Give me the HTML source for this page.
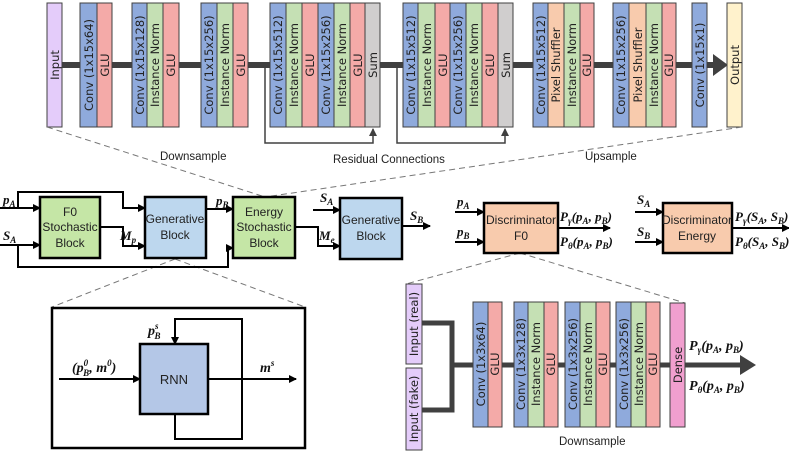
<!DOCTYPE html>
<html><head><meta charset="utf-8"><style>
html,body{margin:0;padding:0;background:#fff;}
svg{display:block;}
.b{stroke:#404040;stroke-width:1;}
.bt{font-family:"DejaVu Sans",sans-serif;font-size:11.5px;fill:#222;text-anchor:middle;dominant-baseline:central;}
.lbl{font-family:"Liberation Sans",sans-serif;font-size:11.5px;fill:#222;}
.blk{font-family:"Liberation Sans",sans-serif;font-size:12px;fill:#222;text-anchor:middle;}
.m{font-family:"Liberation Serif",serif;font-style:italic;font-weight:bold;font-size:13px;fill:#111;}
.s{font-size:9px;}
</style></head><body>
<svg width="789" height="452" viewBox="0 0 789 452" xmlns="http://www.w3.org/2000/svg">
<defs>
<marker id="ah" markerWidth="8" markerHeight="8" refX="7" refY="4" orient="auto" markerUnits="userSpaceOnUse"><path d="M0,0 L8,4 L0,8 z" fill="#000"/></marker>
<marker id="ahg" markerWidth="8" markerHeight="8" refX="7" refY="4" orient="auto" markerUnits="userSpaceOnUse"><path d="M0,0 L8,4 L0,8 z" fill="#404040"/></marker>
</defs>

<line x1="62" y1="65" x2="717" y2="65" stroke="#404040" stroke-width="6"/>
<polygon points="713,54 728,65 713,76" fill="#404040"/>
<polyline points="265,65 265,143 373,143 373,129" fill="none" stroke="#404040" stroke-width="1.5" marker-end="url(#ahg)"/>
<polyline points="397,65 397,143 505,143 505,129" fill="none" stroke="#404040" stroke-width="1.5" marker-end="url(#ahg)"/>

<g class="b">
<rect x="47" y="3" width="15" height="124" fill="#e4ccfa"/>
<rect x="80" y="3" width="17" height="124" fill="#8faadc"/><rect x="97" y="3" width="15" height="124" fill="#f4aaa8"/>
<rect x="132" y="3" width="15" height="124" fill="#8faadc"/><rect x="147" y="3" width="16" height="124" fill="#c5e0b4"/><rect x="163" y="3" width="16" height="124" fill="#f4aaa8"/>
<rect x="201" y="3" width="16" height="124" fill="#8faadc"/><rect x="217" y="3" width="16" height="124" fill="#c5e0b4"/><rect x="233" y="3" width="15" height="124" fill="#f4aaa8"/>
<rect x="270" y="3" width="16" height="124" fill="#8faadc"/><rect x="286" y="3" width="16" height="124" fill="#c5e0b4"/><rect x="302" y="3" width="16" height="124" fill="#f4aaa8"/><rect x="318" y="3" width="16" height="124" fill="#8faadc"/><rect x="334" y="3" width="16" height="124" fill="#c5e0b4"/><rect x="350" y="3" width="15" height="124" fill="#f4aaa8"/><rect x="365" y="3" width="15" height="124" fill="#d0cece"/>
<rect x="403" y="3" width="15" height="124" fill="#8faadc"/><rect x="418" y="3" width="17" height="124" fill="#c5e0b4"/><rect x="435" y="3" width="15" height="124" fill="#f4aaa8"/><rect x="450" y="3" width="16" height="124" fill="#8faadc"/><rect x="466" y="3" width="16" height="124" fill="#c5e0b4"/><rect x="482" y="3" width="16" height="124" fill="#f4aaa8"/><rect x="498" y="3" width="15" height="124" fill="#d0cece"/>
<rect x="533" y="3" width="15" height="124" fill="#8faadc"/><rect x="548" y="3" width="16" height="124" fill="#f8cbad"/><rect x="564" y="3" width="16" height="124" fill="#c5e0b4"/><rect x="580" y="3" width="14" height="124" fill="#f4aaa8"/>
<rect x="613" y="3" width="16" height="124" fill="#8faadc"/><rect x="629" y="3" width="17" height="124" fill="#f8cbad"/><rect x="646" y="3" width="16" height="124" fill="#c5e0b4"/><rect x="662" y="3" width="14" height="124" fill="#f4aaa8"/>
<rect x="692" y="3" width="15" height="124" fill="#8faadc"/>
<rect x="727" y="3" width="15" height="124" fill="#fff2cc"/>
</g>
<g class="bt">
<text transform="translate(55,65) rotate(-90)">Input</text>
<text transform="translate(89,65) rotate(-90)">Conv (1x15x64)</text>
<text transform="translate(105,65) rotate(-90)">GLU</text>
<text transform="translate(140,65) rotate(-90)">Conv (1x15x128)</text>
<text transform="translate(155,65) rotate(-90)">Instance Norm</text>
<text transform="translate(171,65) rotate(-90)">GLU</text>
<text transform="translate(209,65) rotate(-90)">Conv (1x15x256)</text>
<text transform="translate(225,65) rotate(-90)">Instance Norm</text>
<text transform="translate(241,65) rotate(-90)">GLU</text>
<text transform="translate(278,65) rotate(-90)">Conv (1x15x512)</text>
<text transform="translate(294,65) rotate(-90)">Instance Norm</text>
<text transform="translate(310,65) rotate(-90)">GLU</text>
<text transform="translate(326,65) rotate(-90)">Conv (1x15x256)</text>
<text transform="translate(342,65) rotate(-90)">Instance Norm</text>
<text transform="translate(358,65) rotate(-90)">GLU</text>
<text transform="translate(373,65) rotate(-90)">Sum</text>
<text transform="translate(411,65) rotate(-90)">Conv (1x15x512)</text>
<text transform="translate(427,65) rotate(-90)">Instance Norm</text>
<text transform="translate(443,65) rotate(-90)">GLU</text>
<text transform="translate(458,65) rotate(-90)">Conv (1x15x256)</text>
<text transform="translate(474,65) rotate(-90)">Instance Norm</text>
<text transform="translate(490,65) rotate(-90)">GLU</text>
<text transform="translate(506,65) rotate(-90)">Sum</text>
<text transform="translate(541,65) rotate(-90)">Conv (1x15x512)</text>
<text transform="translate(556,65) rotate(-90)">Pixel Shuffler</text>
<text transform="translate(572,65) rotate(-90)">Instance Norm</text>
<text transform="translate(587,65) rotate(-90)">GLU</text>
<text transform="translate(621,65) rotate(-90)">Conv (1x15x256)</text>
<text transform="translate(638,65) rotate(-90)">Pixel Shuffler</text>
<text transform="translate(654,65) rotate(-90)">Instance Norm</text>
<text transform="translate(669,65) rotate(-90)">GLU</text>
<text transform="translate(700,65) rotate(-90)">Conv (1x15x1)</text>
<text transform="translate(735,65) rotate(-90)">Output</text>
</g>
<text class="lbl" x="160" y="160">Downsample</text>
<text class="lbl" x="333" y="163">Residual Connections</text>
<text class="lbl" x="585" y="160">Upsample</text>
<g stroke="#777" stroke-dasharray="6,4" stroke-width="1">
<line x1="47" y1="127" x2="265" y2="197"/>
<line x1="742" y1="127" x2="265" y2="197"/>
<line x1="175" y1="259" x2="52" y2="307"/>
<line x1="175" y1="259" x2="305" y2="307"/>
<line x1="520" y1="253" x2="406" y2="284"/>
<line x1="520" y1="253" x2="685" y2="303"/>
</g>

<g fill="none" stroke="#000" stroke-width="2">
<line x1="0" y1="208" x2="40" y2="208" marker-end="url(#ah)"/>
<polyline points="18,208 18,192 123,192 123,208 145,208" marker-end="url(#ah)"/>
<line x1="0" y1="245" x2="40" y2="245" marker-end="url(#ah)"/>
<polyline points="18,245 18,267 228,267 228,248 233,248" marker-end="url(#ah)"/>
<polyline points="100,227 123,227 123,246 145,246" marker-end="url(#ah)"/>
<line x1="206" y1="209" x2="233" y2="209" marker-end="url(#ah)"/>
<polyline points="295,227 318,227 318,246 340,246" marker-end="url(#ah)"/>
<line x1="313" y1="210" x2="340" y2="210" marker-end="url(#ah)"/>
<line x1="402" y1="226" x2="430" y2="226" marker-end="url(#ah)"/>
<line x1="455" y1="212" x2="484" y2="212" marker-end="url(#ah)"/>
<line x1="455" y1="242" x2="484" y2="242" marker-end="url(#ah)"/>
<line x1="558" y1="228" x2="610" y2="228" marker-end="url(#ah)"/>
<line x1="635" y1="212" x2="663" y2="212" marker-end="url(#ah)"/>
<line x1="635" y1="242" x2="663" y2="242" marker-end="url(#ah)"/>
<line x1="732" y1="228" x2="789" y2="228" marker-end="url(#ah)"/>
</g>
<g stroke="#000" stroke-width="2.5">
<rect x="40" y="197" width="60" height="61" fill="#c5e6a6"/>
<rect x="145" y="197" width="61" height="61" fill="#bdd7ee"/>
<rect x="233" y="197" width="62" height="61" fill="#c5e6a6"/>
<rect x="340" y="198" width="62" height="61" fill="#bdd7ee"/>
<rect x="484" y="203" width="74" height="50" fill="#f8cbad"/>
<rect x="663" y="203" width="69" height="50" fill="#f8cbad"/>
</g>
<g class="blk">
<text x="70" y="216">F0</text><text x="70" y="231">Stochastic</text><text x="70" y="247">Block</text>
<text x="175" y="223">Generative</text><text x="175" y="239">Block</text>
<text x="264" y="216">Energy</text><text x="264" y="231">Stochastic</text><text x="264" y="247">Block</text>
<text x="371" y="224">Generative</text><text x="371" y="240">Block</text>
<text x="521" y="224">Discriminator</text><text x="521" y="240">F0</text>
<text x="697" y="224">Discriminator</text><text x="697" y="240">Energy</text>
</g>
<g class="m">
<text x="3" y="204">p<tspan class="s" dy="3">A</tspan></text>
<text x="3" y="240">S<tspan class="s" dy="3">A</tspan></text>
<text x="120" y="240">M<tspan class="s" dy="3">p</tspan></text>
<text x="216" y="205">p<tspan class="s" dy="3">B</tspan></text>
<text x="320" y="202">S<tspan class="s" dy="3">A</tspan></text>
<text x="319" y="240">M<tspan class="s" dy="3">e</tspan></text>
<text x="410" y="220">S<tspan class="s" dy="3">B</tspan></text>
<text x="457" y="206">p<tspan class="s" dy="3">A</tspan></text>
<text x="457" y="236">p<tspan class="s" dy="3">B</tspan></text>
<text x="560" y="221">P<tspan class="s" dy="3">γ</tspan><tspan dy="-3">(p</tspan><tspan class="s" dy="3">A</tspan><tspan dy="-3">, p</tspan><tspan class="s" dy="3">B</tspan><tspan dy="-3">)</tspan></text>
<text x="560" y="246">P<tspan class="s" dy="3">θ</tspan><tspan dy="-3">(p</tspan><tspan class="s" dy="3">A</tspan><tspan dy="-3">, p</tspan><tspan class="s" dy="3">B</tspan><tspan dy="-3">)</tspan></text>
<text x="637" y="204">S<tspan class="s" dy="3">A</tspan></text>
<text x="637" y="236">S<tspan class="s" dy="3">B</tspan></text>
<text x="735" y="221">P<tspan class="s" dy="3">γ</tspan><tspan dy="-3">(S</tspan><tspan class="s" dy="3">A</tspan><tspan dy="-3">, S</tspan><tspan class="s" dy="3">B</tspan><tspan dy="-3">)</tspan></text>
<text x="735" y="246">P<tspan class="s" dy="3">θ</tspan><tspan dy="-3">(S</tspan><tspan class="s" dy="3">A</tspan><tspan dy="-3">, S</tspan><tspan class="s" dy="3">B</tspan><tspan dy="-3">)</tspan></text>
</g>

<rect x="52" y="308" width="253" height="140" fill="#fff" stroke="#000" stroke-width="2.5"/>
<g fill="none" stroke="#000" stroke-width="2">
<line x1="59" y1="379" x2="140" y2="379" marker-end="url(#ah)"/>
<line x1="208" y1="379" x2="296" y2="379" marker-end="url(#ah)"/>
<polyline points="242,379 242,319 175,319 175,344" marker-end="url(#ah)"/>
<polyline points="175,414 175,439 242,439 242,379"/>
</g>
<rect x="140" y="344" width="68" height="70" fill="#b4c7e7" stroke="#000" stroke-width="2.5"/>
<text class="blk" x="174" y="384" style="font-size:13px">RNN</text>
<g class="m" style="font-size:14px">
<text x="72" y="372">(p<tspan class="s" dy="-6">0</tspan><tspan class="s" dx="-5" dy="10">B</tspan><tspan dy="-4">, m</tspan><tspan class="s" dy="-6">0</tspan><tspan dy="6">)</tspan></text>
<text x="148" y="335">p<tspan class="s" dy="-6">s</tspan><tspan class="s" dx="-4" dy="10">B</tspan></text>
<text x="260" y="372">m<tspan class="s" dy="-6">s</tspan></text>
</g>

<polyline points="422,323 452,323 452,410 422,410" fill="none" stroke="#404040" stroke-width="5"/>
<line x1="452" y1="365" x2="745" y2="365" stroke="#404040" stroke-width="5"/>
<polygon points="740,355 756,365 740,375" fill="#404040"/>
<g class="b">
<rect x="406" y="284" width="16" height="80" fill="#e4ccfa"/>
<rect x="406" y="368" width="16" height="82" fill="#e4ccfa"/>
<rect x="473" y="302" width="15" height="125" fill="#8faadc"/><rect x="488" y="302" width="14" height="125" fill="#f4aaa8"/>
<rect x="514" y="302" width="14" height="125" fill="#8faadc"/><rect x="528" y="302" width="16" height="125" fill="#c5e0b4"/><rect x="544" y="302" width="14" height="125" fill="#f4aaa8"/>
<rect x="565" y="302" width="15" height="125" fill="#8faadc"/><rect x="580" y="302" width="16" height="125" fill="#c5e0b4"/><rect x="596" y="302" width="14" height="125" fill="#f4aaa8"/>
<rect x="616" y="302" width="15" height="125" fill="#8faadc"/><rect x="631" y="302" width="15" height="125" fill="#c5e0b4"/><rect x="646" y="302" width="14" height="125" fill="#f4aaa8"/>
<rect x="670" y="303" width="15" height="124" fill="#f19fcf"/>
</g>
<g class="bt">
<text transform="translate(414,324) rotate(-90)">Input (real)</text>
<text transform="translate(414,409) rotate(-90)">Input (fake)</text>
<text transform="translate(481,364) rotate(-90)">Conv (1x3x64)</text>
<text transform="translate(495,364) rotate(-90)">GLU</text>
<text transform="translate(521,364) rotate(-90)">Conv (1x3x128)</text>
<text transform="translate(536,364) rotate(-90)">Instance Norm</text>
<text transform="translate(551,364) rotate(-90)">GLU</text>
<text transform="translate(573,364) rotate(-90)">Conv (1x3x256)</text>
<text transform="translate(588,364) rotate(-90)">Instance Norm</text>
<text transform="translate(603,364) rotate(-90)">GLU</text>
<text transform="translate(624,364) rotate(-90)">Conv (1x3x256)</text>
<text transform="translate(639,364) rotate(-90)">Instance Norm</text>
<text transform="translate(653,364) rotate(-90)">GLU</text>
<text transform="translate(678,365) rotate(-90)">Dense</text>
</g>
<text class="lbl" x="559" y="445">Downsample</text>
<g class="m" style="font-size:14px">
<text x="689" y="350">P<tspan class="s" dy="3">γ</tspan><tspan dy="-3">(p</tspan><tspan class="s" dy="3">A</tspan><tspan dy="-3">, p</tspan><tspan class="s" dy="3">B</tspan><tspan dy="-3">)</tspan></text>
<text x="689" y="390">P<tspan class="s" dy="3">θ</tspan><tspan dy="-3">(p</tspan><tspan class="s" dy="3">A</tspan><tspan dy="-3">, p</tspan><tspan class="s" dy="3">B</tspan><tspan dy="-3">)</tspan></text>
</g>
</svg>
</body></html>
